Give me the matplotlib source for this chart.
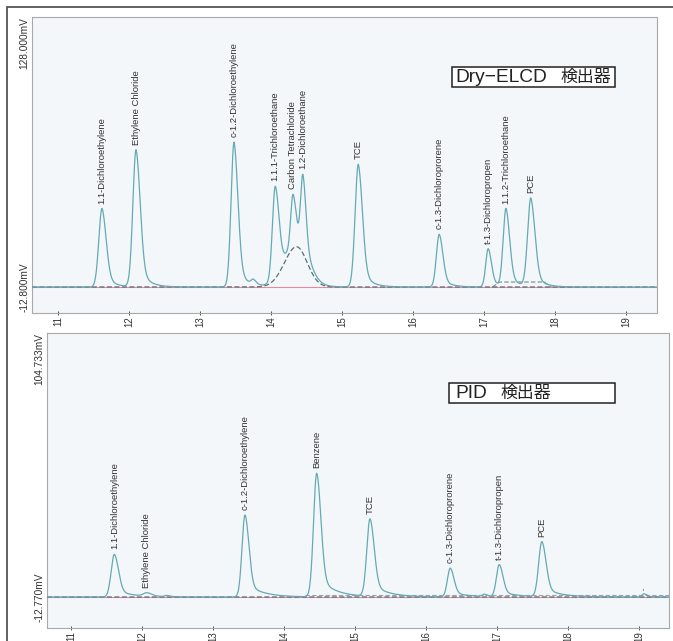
import numpy as np
import matplotlib.pyplot as plt
from matplotlib.patches import Rectangle
from matplotlib.transforms import blended_transform_factory

plt.rcParams['font.family'] = ['Liberation Sans', 'Noto Sans CJK JP', 'DejaVu Sans']

# Dry-ELCD detector (top)
elcd_names = ["1.1-Dichloroethylene", "Ethylene Chloride", "c-1.2-Dichloroethylene",
              "1.1.1-Trichloroethane", "Carbon Tetrachloride", "1.2-Dichloroethane",
              "TCE", "c-1.3-Dichloroprorene", "t-1.3-Dichloropropen",
              "1.1.2-Trichloroethane", "PCE"]
elcd_rt = [11.62, 12.10, 13.48, 14.06, 14.31, 14.45, 15.23, 16.37, 17.06, 17.31, 17.66]
elcd_height = [41.0, 71.5, 75.5, 48.0, 27.0, 39.0, 64.0, 27.5, 20.0, 40.5, 46.0]
elcd_width = [0.045, 0.045, 0.042, 0.04, 0.032, 0.032, 0.045, 0.04, 0.035, 0.04, 0.045]
elcd_minor_rt = [13.75]
elcd_minor_height = [2.5]
elcd_hump = (14.36, 21.0)          # broad co-eluting hump: center, height
elcd_ymin, elcd_ymax = -12.8, 128.0

# PID detector (bottom)
pid_names = ["1.1-Dichloroethylene", "Ethylene Chloride", "c-1.2-Dichloroethylene",
             "Benzene", "TCE", "c-1.3-Dichloroprorene", "t-1.3-Dichloropropen", "PCE"]
pid_rt = [11.61, 12.07, 13.45, 14.46, 15.21, 16.34, 17.03, 17.63]
pid_height = [19.0, 1.5, 36.5, 55.0, 34.5, 12.8, 14.3, 24.5]
pid_width = [0.045, 0.05, 0.042, 0.045, 0.045, 0.04, 0.04, 0.045]
pid_minor_rt = [12.35, 16.82, 19.07]
pid_minor_height = [0.5, 1.0, 1.4]
pid_ymin, pid_ymax = -12.77, 104.733

minutes = [11, 12, 13, 14, 15, 16, 17, 18, 19]

t = np.linspace(10.5, 19.6, 5000)


def peak(rt, h, sl, a=0.2, tau=0.12):
    sr = sl * 1.3
    d = t - rt
    left = h * np.exp(-0.5 * (d / sl) ** 2)
    right = h * ((1 - a) * np.exp(-0.5 * (d / sr) ** 2)
                 + a * np.exp(-np.clip(d, 0, None) / tau))
    return np.where(d < 0, left, right)


def hump(c, h):
    sl, sr = 0.17, 0.15
    return np.where(t < c, h * np.exp(-0.5 * ((t - c) / sl) ** 2),
                    h * np.exp(-0.5 * ((t - c) / sr) ** 2))


teal = '#63aab3'
dash_col = '#55707a'
pink = '#e68a9c'

fig = plt.figure(figsize=(6.73, 6.41), dpi=100)

# outer frame
fig.patches.append(Rectangle((7 / 673, -0.1), 1.2, 634 / 641 + 0.1, transform=fig.transFigure,
                             fill=False, edgecolor='#555555', lw=1.3))

ax1 = fig.add_axes([32 / 673, 1 - 313 / 641, 625 / 673, 296 / 641])
ax2 = fig.add_axes([47 / 673, 1 - 628 / 641, 622 / 673, 295 / 641])

panels = [
    (ax1, elcd_names, elcd_rt, elcd_height, elcd_width, elcd_minor_rt, elcd_minor_height,
     elcd_ymin, elcd_ymax, (10.634, 19.437), -26.36, "Dry−ELCD", "検出器"),
    (ax2, pid_names, pid_rt, pid_height, pid_width, pid_minor_rt, pid_minor_height,
     pid_ymin, pid_ymax, (10.662, 19.42), -26.57, "PID", "検出器"),
]

for (ax, names, rts, hts, wds, mrt, mht, ymin, ymax, xl, ybot, det, suffix) in panels:
    base = np.full_like(t, ymin)
    sig = base.copy()
    for rt, h, w in zip(rts, hts, wds):
        if ax is ax1:
            sig += peak(rt, h, w, a=0.2, tau=0.12)
        else:
            sig += peak(rt, h, w, a=0.18, tau=0.22)
    for rt, h in zip(mrt, mht):
        sig += peak(rt, h, 0.03)
    dashed = base.copy()
    if ax is ax1:
        hm = hump(*elcd_hump)
        sig += hm
        dashed += hm
        # raised integration baseline under the 1.1.2-TCA / PCE pair
        seg_t = [17.12, 17.22, 17.85, 17.95]
        seg_v = [ymin, ymin + 2.6, ymin + 2.6, ymin]
        ax.plot(seg_t, seg_v, color=dash_col, lw=0.8, ls=(0, (4, 2)), alpha=0.8, zorder=3)
    else:
        seg_t = [14.3, 19.42]
        seg_v = [ymin + 1.0, ymin + 1.0]
        ax.plot(seg_t, seg_v, color=dash_col, lw=0.8, ls=(0, (4, 2)), alpha=0.6, zorder=3)

    ax.axhline(ymin, color=pink, lw=0.8, zorder=2)
    ax.plot(t, dashed, color=dash_col, lw=0.9, ls=(0, (4, 2)), zorder=3)
    ax.plot(t, sig, color=teal, lw=0.9, zorder=4)

    for name, rt in zip(names, rts):
        i = np.argmin(np.abs(t - rt))
        apex = sig[max(i - 10, 0):i + 10].max()
        ax.annotate(name, (rt, apex), xytext=(0, 3.5), textcoords='offset points',
                    rotation=90, ha='center', va='bottom', fontsize=6.8, color='#333333')

    if ax is ax2:
        ax.annotate("-", (19.07, ymin + 1.4), xytext=(0, 3), textcoords='offset points',
                    rotation=90, ha='center', va='bottom', fontsize=5, color='#333333')

    ax.set_xlim(*xl)
    ax.set_ylim(ybot, ymax)
    ax.set_facecolor('#f4f7fa')
    for s in ax.spines.values():
        s.set_color('#a9a9a9')
        s.set_linewidth(0.8)
    ax.set_xticks(minutes)
    ax.set_xticklabels([str(m) for m in minutes])
    ax.tick_params(axis='x', labelrotation=90, labelsize=7, colors='#333333',
                   length=3, width=0.6, direction='inout', pad=1)
    ax.set_yticks([])

    ax.text(-0.004, 1.0, f"{ymax:.3f}mV", transform=ax.transAxes, rotation=90,
            ha='right', va='top', fontsize=7.3, color='#333333')
    tr = blended_transform_factory(ax.transAxes, ax.transData)
    ax.text(-0.004, ymin, f"{ymin:.3f}mV", transform=tr,
            rotation=90, ha='right', va='center', fontsize=7.3, color='#333333')

    # detector box
    if ax is ax1:
        bx, by, bw, tx, sx = 0.672, 0.762, 0.26, 0.677, 0.845
    else:
        bx, by, bw, tx, sx = 0.646, 0.763, 0.267, 0.656, 0.729
    ax.add_patch(Rectangle((bx, by), bw, 0.068, transform=ax.transAxes,
                           facecolor='white', edgecolor='#222222', lw=1.1, zorder=5))
    ax.text(tx, 0.795, det, transform=ax.transAxes,
            ha='left', va='center', fontsize=13.8, color='#222222', zorder=6)
    ax.text(sx, 0.795, suffix, transform=ax.transAxes,
            ha='left', va='center', fontsize=12.2, color='#222222', zorder=6)

fig.savefig("out.png", dpi=100)
